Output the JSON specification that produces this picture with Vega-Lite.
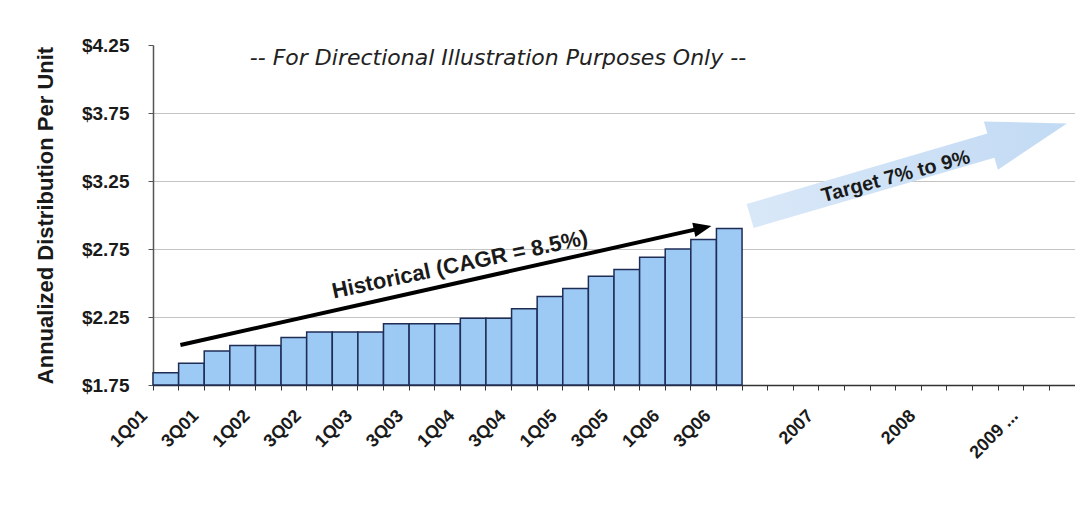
{
  "$schema": "https://vega.github.io/schema/vega-lite/v6.json",
  "width": 922,
  "height": 340,
  "autosize": "none",
  "padding": {"left": 153, "top": 45, "right": 0, "bottom": 120},
  "background": "white",
  "config": {"view": {"stroke": null}, "font": "Liberation Sans"},
  "datasets": {
    "bars": [
      {"period": "1Q01", "y": 1.84},
      {"period": "2Q01", "y": 1.91},
      {"period": "3Q01", "y": 2.00},
      {"period": "4Q01", "y": 2.04},
      {"period": "1Q02", "y": 2.04},
      {"period": "2Q02", "y": 2.10},
      {"period": "3Q02", "y": 2.14},
      {"period": "4Q02", "y": 2.14},
      {"period": "1Q03", "y": 2.14},
      {"period": "2Q03", "y": 2.20},
      {"period": "3Q03", "y": 2.20},
      {"period": "4Q03", "y": 2.20},
      {"period": "1Q04", "y": 2.24},
      {"period": "2Q04", "y": 2.24},
      {"period": "3Q04", "y": 2.31},
      {"period": "4Q04", "y": 2.40},
      {"period": "1Q05", "y": 2.46},
      {"period": "2Q05", "y": 2.55},
      {"period": "3Q05", "y": 2.60},
      {"period": "4Q05", "y": 2.69},
      {"period": "1Q06", "y": 2.75},
      {"period": "2Q06", "y": 2.82},
      {"period": "3Q06", "y": 2.90}
    ],
    "trend": [
      {"x": 1.07, "y": 2.044},
      {"x": 21.46, "y": 2.905}
    ],
    "trendHead": [{"x": 21.46, "y": 2.905}],
    "trendLabel": [{"x": 11.98, "y": 2.636, "label": "Historical (CAGR = 8.5%)"}],
    "target": [{"x": 29.5, "y": 3.333}],
    "targetLabel": [{"x": 29.0, "y": 3.282, "label": "Target 7% to 9%"}],
    "note": [{"x": 13.47, "y": 4.154, "label": "-- For Directional Illustration Purposes Only --"}]
  },
  "layer": [
    {
      "data": {"name": "bars"},
      "mark": {"type": "bar", "fill": "#9dc9f5", "stroke": "#1f2d55", "strokeWidth": 1.5},
      "encoding": {
        "x": {
          "field": "period",
          "type": "nominal",
          "sort": null,
          "scale": {
            "domain": ["1Q01","2Q01","3Q01","4Q01","1Q02","2Q02","3Q02","4Q02","1Q03","2Q03","3Q03","4Q03","1Q04","2Q04","3Q04","4Q04","1Q05","2Q05","3Q05","4Q05","1Q06","2Q06","3Q06","4Q06","1Q07","2Q07","3Q07","4Q07","1Q08","2Q08","3Q08","4Q08","1Q09","2Q09","3Q09","4Q09"],
            "paddingInner": 0,
            "paddingOuter": 0
          },
          "axis": {
            "title": null,
            "labelExpr": "datum.value == '3Q07' ? '2007' : datum.value == '3Q08' ? '2008' : datum.value == '3Q09' ? '2009 ...' : (indexof(['1Q01','3Q01','1Q02','3Q02','1Q03','3Q03','1Q04','3Q04','1Q05','3Q05','1Q06','3Q06'], datum.value) >= 0 ? datum.value : '')",
            "labelAngle": -45,
            "labelAlign": "right",
            "labelBaseline": "middle",
            "labelFont": "Liberation Sans",
            "labelFontSize": 18,
            "labelFontWeight": "bold",
            "labelColor": "#1a1a1a",
            "labelPadding": 23,
            "labelOffset": -21,
            "labelOverlap": false,
            "tickSize": 5,
            "tickColor": "#333333",
            "domainColor": "#333333",
            "domainWidth": 1.5,
            "bandPosition": 0,
            "grid": false
          }
        },
        "y": {
          "field": "y",
          "type": "quantitative",
          "scale": {"domain": [1.75, 4.25], "zero": false, "nice": false},
          "axis": {
            "title": "Annualized Distribution Per Unit",
            "values": [1.75, 2.25, 2.75, 3.25, 3.75, 4.25],
            "format": "$.2f",
            "labelFont": "Liberation Sans",
            "labelFontSize": 19,
            "labelFontWeight": "bold",
            "labelColor": "#1a1a1a",
            "labelPadding": 19,
            "tickSize": 5,
            "tickColor": "#555555",
            "domainColor": "#555555",
            "domainWidth": 1.5,
            "grid": true,
            "gridColor": "#c4c4c4",
            "gridOpacity": {"condition": {"test": "datum.value > 4.2", "value": 0}, "value": 1},
            "titleFont": "Liberation Sans",
            "titleFontSize": 22,
            "titleFontWeight": "bold",
            "titleColor": "#1a1a1a",
            "titlePadding": 24
          }
        },
        "y2": {"datum": 1.75}
      }
    },
    {
      "data": {"name": "target"},
      "mark": {
        "type": "point",
        "shape": "M -1 -0.076 L 0.52 -0.076 L 0.52 -0.152 L 1 0 L 0.52 0.152 L 0.52 0.076 L -1 0.076 Z",
        "size": 108900,
        "angle": -16.3,
        "filled": true,
        "opacity": 1,
        "strokeWidth": 0,
        "fill": {"gradient": "linear", "x1": 0, "y1": 0, "x2": 1, "y2": 0, "stops": [{"offset": 0, "color": "#d9e8f8"}, {"offset": 1, "color": "#c2daf4"}]}
      },
      "encoding": {
        "x": {"field": "x", "type": "quantitative", "scale": {"domain": [0, 36], "nice": false, "zero": false}, "axis": null},
        "y": {"field": "y", "type": "quantitative", "scale": {"domain": [1.75, 4.25], "zero": false, "nice": false}}
      }
    },
    {
      "data": {"name": "targetLabel"},
      "mark": {"type": "text", "angle": -15, "font": "Liberation Sans", "fontSize": 20, "fontWeight": "bold", "color": "#1a1a1a", "align": "center", "baseline": "middle"},
      "encoding": {
        "x": {"field": "x", "type": "quantitative", "scale": {"domain": [0, 36], "nice": false, "zero": false}, "axis": null},
        "y": {"field": "y", "type": "quantitative", "scale": {"domain": [1.75, 4.25], "zero": false, "nice": false}},
        "text": {"field": "label"}
      }
    },
    {
      "data": {"name": "trend"},
      "mark": {"type": "line", "color": "#000000", "strokeWidth": 4, "strokeCap": "butt"},
      "encoding": {
        "x": {"field": "x", "type": "quantitative", "scale": {"domain": [0, 36], "nice": false, "zero": false}, "axis": null},
        "y": {"field": "y", "type": "quantitative", "scale": {"domain": [1.75, 4.25], "zero": false, "nice": false}}
      }
    },
    {
      "data": {"name": "trendHead"},
      "mark": {"type": "point", "shape": "M -1 -0.8 L 1 0 L -1 0.8 Z", "size": 324, "angle": -12.6, "filled": true, "opacity": 1, "color": "#000000", "strokeWidth": 0},
      "encoding": {
        "x": {"field": "x", "type": "quantitative", "scale": {"domain": [0, 36], "nice": false, "zero": false}, "axis": null},
        "y": {"field": "y", "type": "quantitative", "scale": {"domain": [1.75, 4.25], "zero": false, "nice": false}}
      }
    },
    {
      "data": {"name": "trendLabel"},
      "mark": {"type": "text", "angle": -12, "font": "Liberation Sans", "fontSize": 22, "fontWeight": "bold", "color": "#1a1a1a", "align": "center", "baseline": "middle"},
      "encoding": {
        "x": {"field": "x", "type": "quantitative", "scale": {"domain": [0, 36], "nice": false, "zero": false}, "axis": null},
        "y": {"field": "y", "type": "quantitative", "scale": {"domain": [1.75, 4.25], "zero": false, "nice": false}},
        "text": {"field": "label"}
      }
    },
    {
      "data": {"name": "note"},
      "mark": {"type": "text", "font": "DejaVu Sans", "fontSize": 22, "fontStyle": "italic", "color": "#222222", "align": "center", "baseline": "middle"},
      "encoding": {
        "x": {"field": "x", "type": "quantitative", "scale": {"domain": [0, 36], "nice": false, "zero": false}, "axis": null},
        "y": {"field": "y", "type": "quantitative", "scale": {"domain": [1.75, 4.25], "zero": false, "nice": false}},
        "text": {"field": "label"}
      }
    }
  ],
  "resolve": {"scale": {"x": "independent"}, "axis": {"x": "independent"}}
}
